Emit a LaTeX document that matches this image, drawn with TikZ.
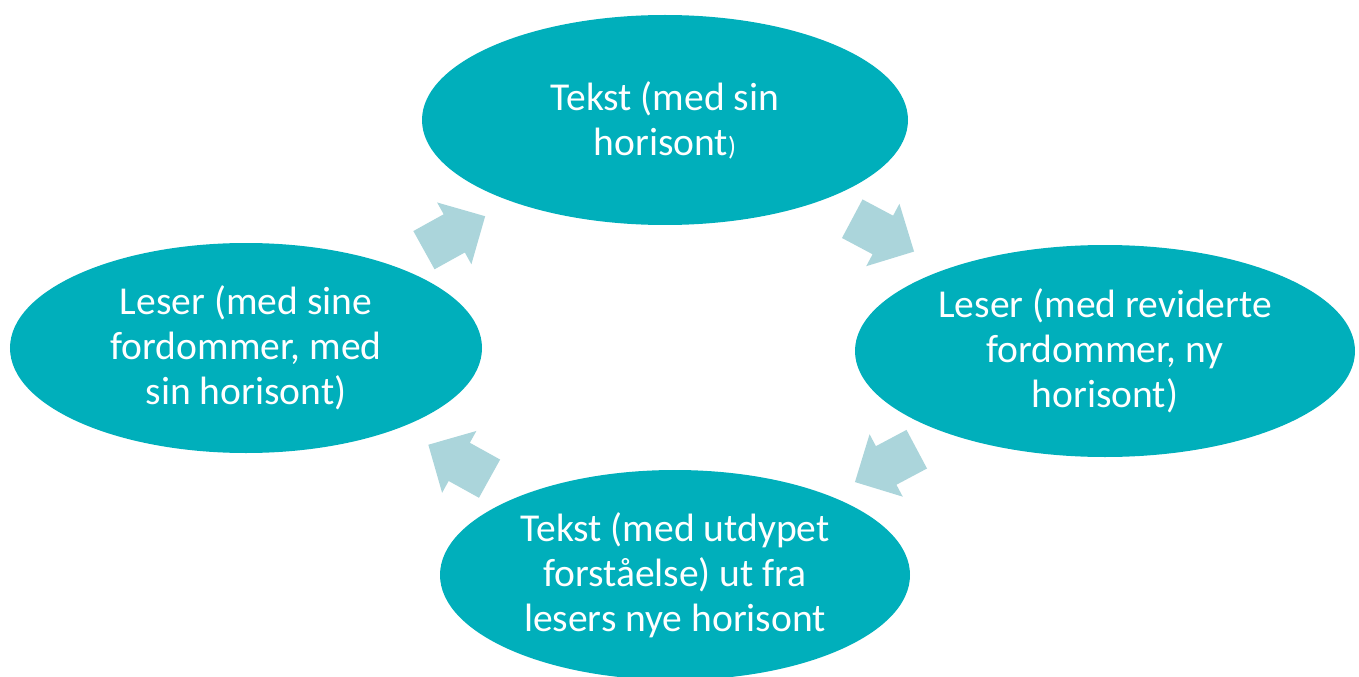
\documentclass[tikz,border=0pt]{standalone}
\usepackage{fontspec}
\setmainfont{Carlito}
\usepackage{tikz}
\usepackage{xcolor}
\usetikzlibrary{shapes.geometric,shapes.arrows}
\definecolor{bubble-teal}{RGB}{0,175,187}
\definecolor{arrow-blue}{RGB}{171,213,219}
\tikzset{
    teal-ellipse/.style = {ellipse, fill=bubble-teal, text=white, inner sep=0pt, align=center, font=\fontsize{22.5}{25.6}\selectfont},
    flow-arrow/.style = {single arrow, fill=arrow-blue, inner xsep=0pt, inner ysep=0.43cm, minimum height=1.4cm, single arrow head extend=0.27cm, single arrow tip angle=90},
}
\begin{document}
\begin{tikzpicture}
\useasboundingbox (0,0) rectangle (27.18,-13.54);
\node[teal-ellipse, minimum width=9.72cm, minimum height=4.2cm] (tekst) at (13.30,-2.40) {Tekst (med sin\\horisont{\fontsize{15}{16}\selectfont)}};
\node[teal-ellipse, minimum width=10cm, minimum height=4.24cm] (revidert) at (22.10,-7.02) {Leser (med reviderte\\fordommer, ny\\horisont)};
\node[teal-ellipse, minimum width=9.4cm, minimum height=4.2cm] (utdypet) at (13.50,-11.50) {Tekst (med utdypet\\forståelse) ut fra\\lesers nye horisont};
\node[teal-ellipse, minimum width=9.44cm, minimum height=4.2cm] (leser) at (4.92,-6.96) {Leser (med sine\\fordommer, med\\sin horisont)};
\node[flow-arrow, rotate=29] (pil-a) at (8.90,-4.77) {};
\node[flow-arrow, rotate=-28] (pil-b) at (17.47,-4.60) {};
\node[flow-arrow, rotate=208] (pil-c) at (17.91,-9.21) {};
\node[flow-arrow, rotate=151] (pil-d) at (9.37,-9.34) {};
\end{tikzpicture}
\end{document}
